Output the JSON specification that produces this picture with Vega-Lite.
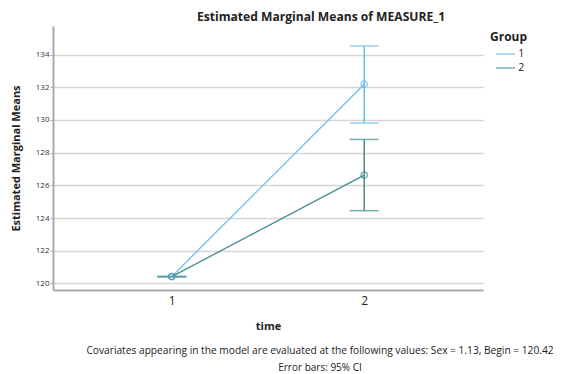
{
  "$schema": "https://vega.github.io/schema/vega-lite/v6.json",
  "padding": {"left": 10, "top": 10, "right": 5, "bottom": 0},
  "background": "white",
  "title": {
    "text": "Covariates appearing in the model are evaluated at the following values: Sex = 1.13, Begin = 120.42",
    "subtitle": "Error bars: 95% CI",
    "orient": "bottom",
    "anchor": "middle",
    "frame": "group",
    "dx": 52,
    "offset": 15,
    "font": "Open Sans",
    "fontSize": 10.2,
    "fontWeight": "normal",
    "color": "#222222",
    "subtitleFont": "Open Sans",
    "subtitleFontSize": 10,
    "subtitleColor": "#222222",
    "subtitlePadding": 7
  },
  "config": {
    "view": {"stroke": null},
    "font": "Open Sans",
    "axisY": {
      "titleFont": "Open Sans",
      "titleFontSize": 11,
      "titleFontWeight": "bold",
      "titleColor": "#222222",
      "titlePadding": 14,
      "labelOverlap": false,
      "labelFont": "Open Sans",
      "labelFontSize": 8,
      "labelColor": "#333333",
      "labelPadding": 1,
      "tickSize": 3,
      "tickColor": "#aaaaaa",
      "domainColor": "#aaaaaa",
      "domainWidth": 2,
      "gridColor": "#d6d6d6",
      "gridWidth": 1.5
    }
  },
  "vconcat": [
    {
      "title": {
        "text": "Estimated Marginal Means of MEASURE_1",
        "anchor": "middle",
        "frame": "group",
        "dx": 53,
        "offset": 3,
        "font": "Open Sans",
        "fontSize": 12.1,
        "fontWeight": "bold",
        "color": "#222222"
      },
      "width": 430,
      "height": 264,
      "data": {
        "values": [
          {"time": "1", "group": "1", "mean": 120.42, "lo": 120.42, "hi": 120.42},
          {"time": "2", "group": "1", "mean": 132.19, "lo": 129.81, "hi": 134.53},
          {"time": "1", "group": "2", "mean": 120.42, "lo": 120.42, "hi": 120.42},
          {"time": "2", "group": "2", "mean": 126.63, "lo": 124.45, "hi": 128.81}
        ]
      },
      "encoding": {
        "x": {
          "field": "time",
          "type": "ordinal",
          "scale": {"type": "point", "padding": 0.617},
          "axis": {
            "title": "time",
            "titleFont": "Open Sans",
            "titleFontSize": 11,
            "titleFontWeight": "bold",
            "titleColor": "#222222",
            "titlePadding": 14,
            "labelAngle": 0,
            "labelFont": "Open Sans",
            "labelFontSize": 12,
            "labelColor": "#222222",
            "labelPadding": 5,
            "ticks": false,
            "grid": false,
            "domainColor": "#aaaaaa",
            "domainWidth": 2
          }
        },
        "color": {
          "field": "group",
          "type": "nominal",
          "scale": {"domain": ["1", "2"], "range": ["#6ebdea", "#468e8e"]},
          "legend": {
            "title": "Group",
            "titleFont": "Open Sans",
            "titleFontSize": 12,
            "titleFontWeight": "bold",
            "titleColor": "#222222",
            "titlePadding": 3,
            "labelFont": "Open Sans",
            "labelFontSize": 10.5,
            "labelColor": "#222222",
            "labelOffset": 5.6,
            "symbolType": "M-1.6,0H1.6",
            "symbolSize": 144,
            "symbolStrokeWidth": 1.5,
            "symbolOffset": 8.6,
            "rowPadding": 1,
            "offset": 1,
            "padding": 6
          }
        }
      },
      "layer": [
        {
          "mark": {"type": "line", "strokeWidth": 1.3},
          "encoding": {
            "y": {
              "field": "mean",
              "type": "quantitative",
              "scale": {"domain": [119.6, 135.75], "nice": false, "zero": false},
              "axis": {"title": "Estimated Marginal Means", "values": [120, 122, 124, 126, 128, 130, 132, 134]}
            }
          }
        },
        {
          "mark": {"type": "rule", "strokeWidth": 1.5},
          "encoding": {
            "y": {"field": "lo", "type": "quantitative", "axis": {"title": "Estimated Marginal Means", "values": [120, 122, 124, 126, 128, 130, 132, 134]}},
            "y2": {"field": "hi"}
          }
        },
        {
          "mark": {"type": "tick", "size": 29, "thickness": 1.5},
          "encoding": {
            "y": {"field": "lo", "type": "quantitative", "axis": {"title": "Estimated Marginal Means", "values": [120, 122, 124, 126, 128, 130, 132, 134]}}
          }
        },
        {
          "mark": {"type": "tick", "size": 29, "thickness": 1.5},
          "encoding": {
            "y": {"field": "hi", "type": "quantitative", "axis": {"title": "Estimated Marginal Means", "values": [120, 122, 124, 126, 128, 130, 132, 134]}}
          }
        },
        {
          "mark": {"type": "point", "shape": "circle", "size": 40, "strokeWidth": 1.5, "filled": false},
          "encoding": {
            "y": {"field": "mean", "type": "quantitative", "axis": {"title": "Estimated Marginal Means", "values": [120, 122, 124, 126, 128, 130, 132, 134]}}
          }
        }
      ]
    }
  ]
}
